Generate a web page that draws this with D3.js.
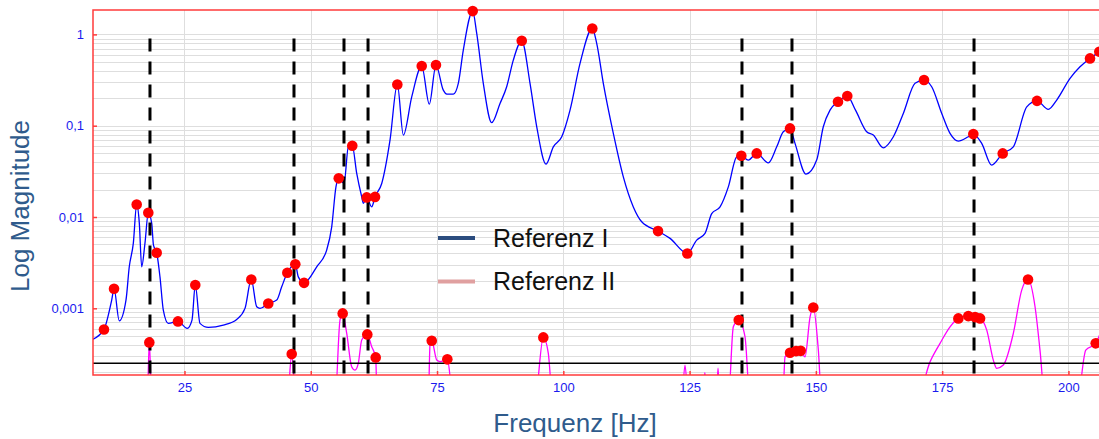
<!DOCTYPE html>
<html>
<head>
<meta charset="utf-8">
<script src="https://cdn.jsdelivr.net/npm/d3@7"></script>
<style>
  body { margin: 0; background: #fff; }
  svg { display: block; font-family: "Liberation Sans", Arial, sans-serif; }
</style>
</head>
<body>
<svg id="chart"></svg>
<script>
// Referenz I (blue trace)
let freqI = [6.80, 9.06, 10.59, 11.05, 12.09, 13.42, 14.07, 14.87, 15.54, 16.06, 16.53, 17.18, 17.84, 18.51, 18.86, 19.50, 20.15, 20.81, 21.80, 23.71,
  25.55, 26.49, 27.14, 28.07, 29.72, 32.69, 35.34, 36.98, 38.23, 39.30, 39.95, 41.59, 43.26, 44.25, 45.36, 46.94, 47.54, 48.67, 51.18, 53.15,
  54.15, 54.99, 55.54, 56.59, 57.44, 58.22, 59.10, 60.09, 60.41, 61.08, 62.07, 62.72, 64.05, 65.69, 67.14, 68.33, 69.99, 71.97, 73.47, 74.79,
  76.24, 76.92, 78.23, 79.21, 80.20, 82.06, 82.85, 84.16, 85.82, 87.47, 88.79, 90.10, 91.77, 93.41, 94.74, 96.58, 98.02, 99.69, 101.33, 103.31,
  105.74, 106.61, 107.92, 109.90, 111.88, 113.86, 115.52, 118.75, 121.13, 124.55, 126.41, 128.05, 129.38, 131.03, 132.67, 134.33, 135.24, 136.62, 138.29, 140.59,
  142.25, 143.55, 144.88, 145.87, 148.05, 150.16, 151.47, 152.80, 154.38, 156.22, 157.85, 160.06, 161.37, 163.36, 165.34, 167.31, 169.63, 171.41, 172.93, 174.92,
  176.56, 178.20, 180.18, 181.17, 182.83, 184.81, 186.99, 189.09, 191.75, 193.78, 196.02, 197.68, 200.32, 202.29, 204.27, 206.15]
let magI = [4.56e-4, 5.87e-4, 1.23e-3, 1.64e-3, 7.3e-4, 1.23e-3, 2.85e-3, 5.14e-3, 1.37e-2, 8.57e-3, 2.85e-3, 5.18e-3, 1.11e-2, 8.57e-3, 4.92e-3, 4.06e-3, 2.21e-3, 9.55e-4, 6.84e-4, 7.19e-4,
  6.03e-4, 7.43e-4, 1.8e-3, 6.84e-4, 6.18e-4, 6.55e-4, 7.55e-4, 9.98e-4, 2.07e-3, 1.04e-3, 9.98e-4, 1.13e-3, 1.23e-3, 1.72e-3, 2.45e-3, 3.03e-3, 2.21e-3, 1.9e-3, 2.85e-3, 4.34e-3,
  7.81e-3, 2.14e-2, 2.65e-2, 2.33e-2, 5.87e-2, 6.02e-2, 3.0e-2, 1.66e-2, 1.41e-2, 1.64e-2, 1.29e-2, 1.66e-2, 2.33e-2, 6.95e-2, 0.283, 7.89e-2, 0.207, 0.45, 0.172, 0.461,
  0.245, 0.222, 0.222, 0.291, 0.673, 1.8, 1.03, 0.291, 0.108, 0.175, 0.267, 0.523, 0.851, 0.291, 0.0973, 0.038, 0.0587, 0.0756, 0.148, 0.481,
  1.16, 0.797, 0.291, 0.0824, 0.0275, 0.0129, 8.86e-3, 7.01e-3, 5.83e-3, 3.99e-3, 5.58e-3, 6.61e-3, 1.09e-2, 1.29e-2, 2.14e-2, 4.56e-2, 4.68e-2, 4.2e-2, 4.97e-2, 3.92e-2,
  5.87e-2, 0.0858, 0.0934, 0.064, 0.0295, 0.042, 0.0973, 0.148, 0.183, 0.211, 0.148, 0.0858, 0.0789, 0.0573, 0.0756, 0.136, 0.291, 0.316, 0.267, 0.136,
  0.0824, 0.0678, 0.0756, 0.0809, 0.064, 0.037, 0.0497, 0.0587, 0.161, 0.187, 0.151, 0.191, 0.33, 0.442, 0.546, 0.645]

// Referenz II (magenta trace), 1e-4 = below the visible floor
let freqII = [6.80, 17.62, 18.04, 18.51, 45.37, 46.23, 47.04, 54.82, 55.79, 56.32, 57.12, 58.10, 58.76, 59.41, 60.09, 61.19, 62.07, 62.86, 63.13,
  73.28, 73.61, 73.95, 74.94, 75.59, 77.04, 78.23, 94.39, 96.04, 97.03, 97.91, 123.44, 124.09, 124.75, 127.53, 128.02, 128.52, 130.29, 130.63, 130.98,
  132.67, 133.66, 134.73, 135.97, 136.96, 143.43, 143.90, 144.88, 146.07, 147.00, 147.85, 148.85, 149.49, 150.49, 151.16,
  169.96, 172.60, 174.58, 176.56, 178.21, 180.18, 181.51, 182.50, 183.83, 185.13, 185.80, 187.11, 189.09, 190.75, 192.00, 193.39, 194.37, 195.37,
  201.76, 203.43, 205.40, 206.15]
let magII = [1e-4, 1e-4, 4.23e-4, 1e-4, 1e-4, 3.15e-4, 1e-4, 1e-4, 7.43e-4, 8.79e-4, 5.31e-4, 2.29e-4, 2.1e-4, 2.49e-4, 4.49e-4, 5.18e-4, 3.79e-4, 2.9e-4, 1e-4,
  1e-4, 3.97e-4, 4.41e-4, 2.71e-4, 2.6e-4, 2.76e-4, 1e-4, 1e-4, 4.8e-4, 3.21e-4, 1e-4, 1e-4, 2.39e-4, 1e-4, 1e-4, 1.97e-4, 1e-4, 1e-4, 2.21e-4, 1e-4,
  1e-4, 6.27e-4, 7.43e-4, 4.88e-4, 1e-4, 1e-4, 2.94e-4, 3.26e-4, 3.4e-4, 3.42e-4, 2.94e-4, 8.07e-4, 1.02e-3, 3.48e-4, 1e-4,
  1e-4, 2.59e-4, 4.13e-4, 6.27e-4, 7.75e-4, 8.22e-4, 8.01e-4, 7.75e-4, 5.77e-4, 2.71e-4, 2.2e-4, 2.39e-4, 5.31e-4, 1.58e-3, 2.07e-3, 1.04e-3, 3.48e-4, 1e-4,
  1e-4, 3.48e-4, 4.13e-4, 5.08e-4]

// picked peaks (red dots)
let peakIHz = [9.06, 11.05, 15.54, 17.84, 19.50, 23.71, 27.14, 38.23, 41.59, 45.36, 46.94, 48.67, 55.54, 58.22, 61.08, 62.72, 67.14, 71.97, 74.79, 82.06,
  91.77, 105.74, 118.75, 124.55, 135.24, 138.29, 144.88, 154.38, 156.22, 171.41, 181.17, 186.99, 193.78, 204.27, 206.11]
let peakIMag = [5.87e-4, 1.64e-3, 1.37e-2, 1.11e-2, 4.06e-3, 7.19e-4, 1.8e-3, 2.07e-3, 1.13e-3, 2.45e-3, 3.03e-3, 1.9e-3, 2.65e-2, 6.02e-2, 1.64e-2, 1.66e-2, 0.283, 0.45, 0.461, 1.8,
  0.851, 1.16, 7.01e-3, 3.99e-3, 4.68e-2, 4.97e-2, 0.0934, 0.183, 0.211, 0.316, 0.0809, 0.0497, 0.187, 0.546, 0.645]
let peakIIHz = [18.04, 46.23, 56.32, 61.19, 62.86, 73.95, 77.04, 96.04, 134.73, 144.88, 146.07, 147.00, 149.49, 178.21, 180.18, 181.51, 182.50, 192.00, 205.40]
let peakIIMag = [4.23e-4, 3.15e-4, 8.79e-4, 5.18e-4, 2.9e-4, 4.41e-4, 2.76e-4, 4.8e-4, 7.43e-4, 3.26e-4, 3.4e-4, 3.42e-4, 1.02e-3, 7.75e-4, 8.22e-4, 8.01e-4, 7.75e-4, 2.07e-3, 4.13e-4]

// reference frequencies (dashed) and threshold
let markerHz = [18.17, 46.68, 56.58, 61.34, 135.37, 145.27, 181.31]
let markerTop = 0.9
let threshold = 2.5e-4

let xTicks = [25, 50, 75, 100, 125, 150, 175, 200]
let yTicks = [0.001, 0.01, 0.1, 1]
let yTickLabels = ['0,001', '0,01', '0,1', '1']
let seriesNames = ['Referenz I', 'Referenz II']
let legendColors = ['#2b4c7e', '#e0a0a0']

let width = 1099
let height = 439
let pLeft = 93, pRight = 1101, pTop = 10, pBottom = 375

let svg = d3.select('#chart').attr('width', width).attr('height', height)

let xScale = d3.scaleLinear().domain([6.89, 206.25]).range([pLeft, 1100])
let yScale = d3.scaleLog().domain([1.86e-4, 1.85]).range([pBottom, pTop])

svg.append('clipPath').attr('id', 'plotclip')
  .append('rect').attr('x', pLeft).attr('y', pTop).attr('width', pRight - pLeft).attr('height', pBottom - pTop)

// grid
let grid = svg.append('g')
grid.selectAll('line.h')
  .data(yScale.ticks())
  .enter().append('line')
  .attr('x1', pLeft).attr('x2', pRight)
  .attr('y1', d => Math.round(yScale(d)) + 0.5).attr('y2', d => Math.round(yScale(d)) + 0.5)
  .attr('stroke', '#dedede').attr('stroke-width', 1)
grid.selectAll('line.v')
  .data(xTicks)
  .enter().append('line')
  .attr('x1', d => Math.round(xScale(d)) + 0.5).attr('x2', d => Math.round(xScale(d)) + 0.5)
  .attr('y1', pTop).attr('y2', pBottom)
  .attr('stroke', '#dedede').attr('stroke-width', 1)

let plot = svg.append('g').attr('clip-path', 'url(#plotclip)')

let line = d3.line()
  .x(d => xScale(d[0]))
  .y(d => yScale(d[1]))
  .curve(d3.curveMonotoneX)

plot.append('path')
  .datum(freqII.map((f, i) => [f, magII[i]]))
  .attr('d', line)
  .attr('fill', 'none').attr('stroke', '#ff00ff').attr('stroke-width', 1.3)

plot.append('path')
  .datum(freqI.map((f, i) => [f, magI[i]]))
  .attr('d', line)
  .attr('fill', 'none').attr('stroke', '#0000ff').attr('stroke-width', 1.3)

// threshold
plot.append('line')
  .attr('x1', pLeft).attr('x2', pRight)
  .attr('y1', yScale(threshold)).attr('y2', yScale(threshold))
  .attr('stroke', '#000').attr('stroke-width', 1.5)

// dashed markers
plot.selectAll('line.marker')
  .data(markerHz)
  .enter().append('line')
  .attr('x1', d => xScale(d)).attr('x2', d => xScale(d))
  .attr('y1', yScale(markerTop)).attr('y2', pBottom + 5)
  .attr('stroke', '#000').attr('stroke-width', 3)
  .attr('stroke-dasharray', '13,10')

// red frame
svg.append('rect')
  .attr('x', pLeft).attr('y', pTop).attr('width', pRight - pLeft).attr('height', pBottom - pTop)
  .attr('fill', 'none').attr('stroke', '#ff3b3b').attr('stroke-width', 1.5)

// axes
let xAxis = d3.axisBottom(xScale).tickValues(xTicks).tickSizeInner(-4).tickSizeOuter(0).tickPadding(8)
let gx = svg.append('g').attr('transform', 'translate(0,' + pBottom + ')').call(xAxis)
let yAxis = d3.axisLeft(yScale).tickValues(yTicks).tickFormat((d, i) => yTickLabels[i]).tickSizeInner(-4).tickSizeOuter(0).tickPadding(9)
let gy = svg.append('g').attr('transform', 'translate(' + pLeft + ',0)').call(yAxis)
;[gx, gy].forEach(g => {
  g.select('.domain').remove()
  g.selectAll('.tick line').attr('stroke', '#ff3b3b').attr('stroke-width', 1.5)
  g.selectAll('.tick text').attr('fill', '#1a1aee').style('font-size', '13px')
    .style('font-family', '"Liberation Sans", Arial, sans-serif')
})

// dots
let dots = svg.append('g')
dots.selectAll('circle.p1')
  .data(peakIHz.map((f, i) => [f, peakIMag[i]]))
  .enter().append('circle')
  .attr('cx', d => xScale(d[0])).attr('cy', d => yScale(d[1])).attr('r', 5.3)
  .attr('fill', '#ff0000')
dots.selectAll('circle.p2')
  .data(peakIIHz.map((f, i) => [f, peakIIMag[i]]))
  .enter().append('circle')
  .attr('cx', d => xScale(d[0])).attr('cy', d => yScale(d[1])).attr('r', 5.3)
  .attr('fill', '#ff0000')

// axis titles
svg.append('text')
  .attr('transform', 'translate(29,206) rotate(-90)')
  .attr('text-anchor', 'middle')
  .attr('fill', '#2f5b8c').style('font-size', '26px')
  .text('Log Magnitude')
svg.append('text')
  .attr('x', 575).attr('y', 431.5)
  .attr('text-anchor', 'middle')
  .attr('fill', '#2f5b8c').style('font-size', '26px')
  .text('Frequenz [Hz]')

// legend
let legend = svg.append('g').attr('transform', 'translate(438,238)')
seriesNames.forEach((name, i) => {
  legend.append('line')
    .attr('x1', 0).attr('x2', 37)
    .attr('y1', i * 43.5).attr('y2', i * 43.5)
    .attr('stroke', legendColors[i]).attr('stroke-width', 4)
  legend.append('text')
    .attr('x', 55).attr('y', i * 43.5 + 8.5)
    .attr('fill', '#111').style('font-size', '25px')
    .text(name)
})
</script>
</body>
</html>
